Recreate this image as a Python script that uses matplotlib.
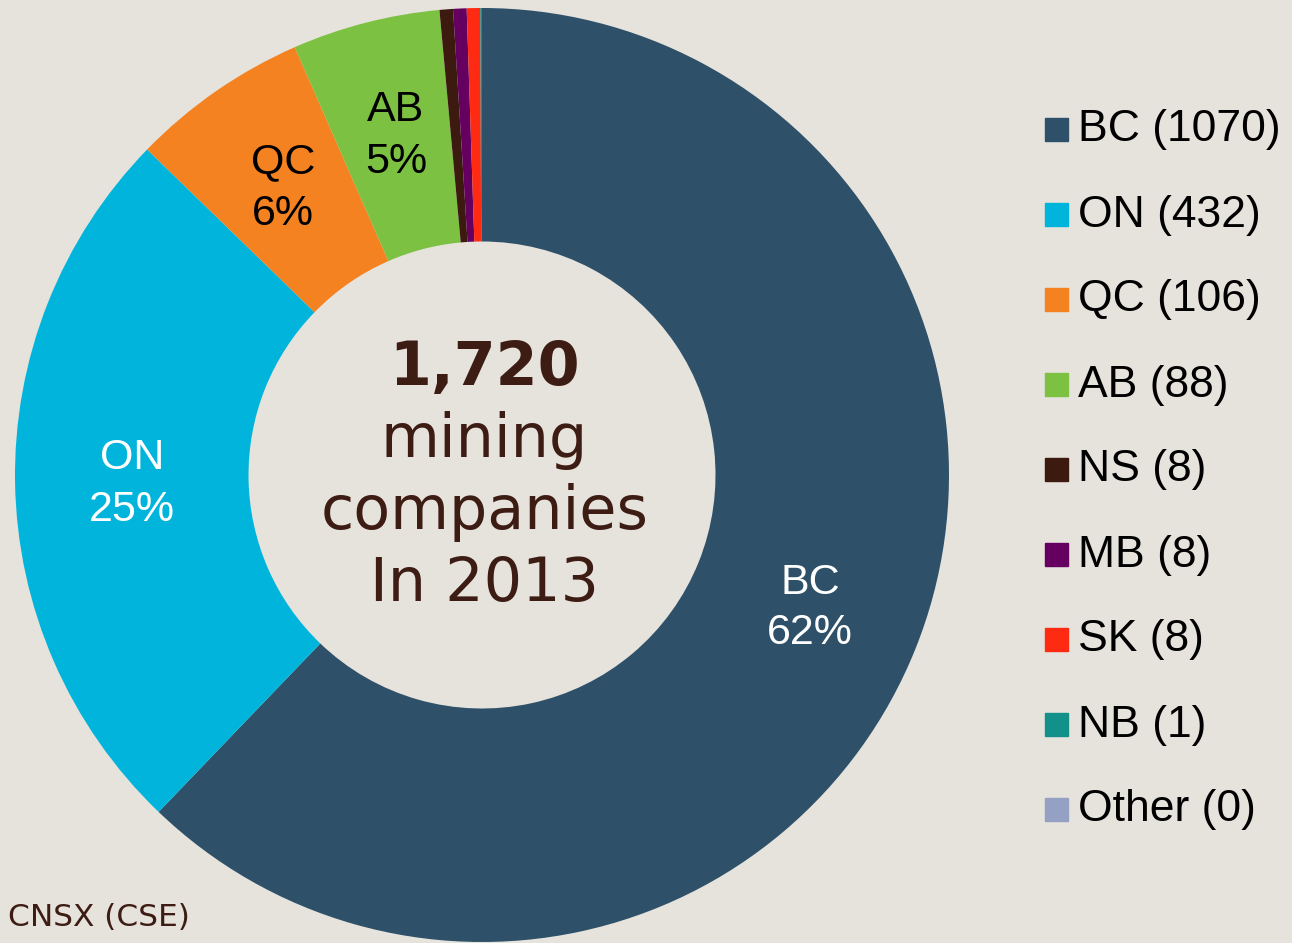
import matplotlib.pyplot as plt
from matplotlib.patches import Rectangle

provinces = ['BC', 'ON', 'QC', 'AB', 'NS', 'MB', 'SK', 'NB', 'Other']
companies = [1070, 432, 106, 88, 8, 8, 8, 1, 0]
colors = ['#2E5169', '#00B4DC', '#F58220', '#7DC142', '#3C1A10',
          '#650060', '#FF2A12', '#11918A', '#94A0C4']
label_colors = ['white', 'white', 'black', 'black']
total_text = '1,720'
center_lines = ['mining', 'companies', 'In 2013']

bg = '#E6E3DD'
brown = '#3D1C14'
W, H = 1292, 943

fig = plt.figure(figsize=(W / 100, H / 100), dpi=100, facecolor=bg)

# donut axes: centre (482, 475) px, radius 467 px
cx, cy, r = 482, 475, 467
ax = fig.add_axes([(cx - r) / W, (H - cy - r) / H, 2 * r / W, 2 * r / H])
ax.set_facecolor(bg)
ax.axis('off')

wedges, _ = ax.pie(companies, colors=colors, startangle=90, counterclock=False,
                   radius=1, wedgeprops=dict(width=0.5, edgecolor='none'))
ax.set_xlim(-1, 1)
ax.set_ylim(-1, 1)
ax.set_aspect('equal')

# slice labels (pixel positions of the two lines)
total = sum(companies)
label_pos = {'BC': (810, 583, 633), 'ON': (132, 458, 510),
             'QC': (283, 162, 214), 'AB': (396, 110, 162)}
for i, name in enumerate(provinces[:4]):
    px, py1, py2 = label_pos[name]
    pct = '%d%%' % round(100 * companies[i] / total)
    for txt, py in [(name, py1), (pct, py2)]:
        ax.text((px - cx) / r, (cy - py) / r, txt, ha='center', va='center',
                fontsize=31, family='Liberation Sans', color=label_colors[i])

# centre text
ax.text(0.005, (cy - 385) / r, total_text, ha='center', va='baseline',
        fontsize=43.5, fontweight='bold', family='DejaVu Sans', color=brown)
for txt, base in zip(center_lines, [457, 529, 601]):
    ax.text(0.005, (cy - base) / r, txt, ha='center', va='baseline',
            fontsize=43.5, family='DejaVu Sans', color=brown)

# legend
for i, (name, n) in enumerate(zip(provinces, companies)):
    yc = 130 + 85 * i
    fig.patches.append(Rectangle((1045 / W, (H - yc - 11) / H), 23 / W, 23 / H,
                                 transform=fig.transFigure, color=colors[i]))
    fig.text(1078 / W, (H - yc) / H, '%s (%d)' % (name, n), ha='left', va='center',
             fontsize=32, family='Liberation Sans', color='black')

fig.text(8 / W, (H - 918) / H, 'CNSX (CSE)', ha='left', va='center',
         fontsize=22.5, family='DejaVu Sans', color=brown)

fig.savefig('out.png', dpi=100, facecolor=bg)
